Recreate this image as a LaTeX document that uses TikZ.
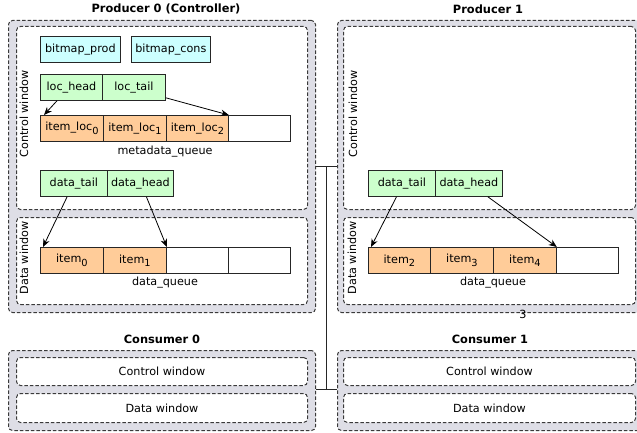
\documentclass[tikz,border=0pt]{standalone}
\usepackage{fontspec}
\setmainfont{DejaVu Sans}
\usetikzlibrary{calc,arrows.meta}

\definecolor{panelgray}{HTML}{DEDEE6}
\definecolor{edgegray}{HTML}{3A3A3A}
\definecolor{cellgreen}{HTML}{CCFFCC}
\definecolor{cellcyan}{HTML}{CCFFFF}
\definecolor{cellorange}{HTML}{FFCC99}

% lowered, slightly smaller index digit
\newcommand{\idx}[1]{\raisebox{-3.2pt}{\fontsize{9.8}{10}\selectfont #1}}

\begin{document}
\begin{tikzpicture}[x=1pt,y=-1pt,
  font=\fontsize{11.2}{13}\selectfont,
  panel/.style={draw=edgegray, fill=panelgray, dash pattern=on 3.5pt off 2pt,
    rounded corners=4pt, line width=1pt, inner sep=0, anchor=north west},
  window/.style={draw=edgegray, fill=white, dash pattern=on 3.5pt off 2pt,
    rounded corners=4pt, line width=1pt, inner sep=0, anchor=north west},
  cell/.style={draw=black!85, line width=0.8pt, minimum height=26pt,
    inner sep=0, anchor=north west},
  green/.style={cell, fill=cellgreen},
  cyan/.style={cell, fill=cellcyan},
  orange/.style={cell, fill=cellorange},
  empty/.style={cell, fill=white},
  title/.style={font=\fontsize{11.4}{13}\selectfont\bfseries},
  ptr/.style={-{Stealth[length=8pt,width=6.5pt]}, line width=0.8pt, black},
  bus/.style={line width=0.8pt, black!85},
  sideways/.style={rotate=90}
]
\clip (0,0) rectangle (637,433);

% ---------------- Producer 0 (Controller) ----------------
\node[title] (p0title) at (166,9) {Producer 0 (Controller)};
\node[panel, minimum width=307pt, minimum height=292pt] (p0) at (8,20) {};
\node[window, minimum width=291pt, minimum height=183pt] (p0ctl) at (16,26) {};
\node[window, minimum width=291pt, minimum height=87pt] (p0dat) at (16,217) {};
\node[sideways] (p0ctllbl) at (24,114) {Control window};
\node[sideways] (p0datlbl) at (24,258) {Data window};

\node[cyan, minimum width=80pt] (bmprod) at (40,36) {bitmap\_prod};
\node[cyan, minimum width=79pt] (bmcons) at (131,36) {bitmap\_cons};

\node[green, minimum width=62pt] (lochead) at (40,74) {loc\_head};
\node[green, minimum width=63pt] (loctail) at (102,74) {loc\_tail};

\node[orange, minimum width=63pt] (iloc0) at (40,115) {item\_loc\idx{0}};
\node[orange, minimum width=63pt] (iloc1) at (103,115) {item\_loc\idx{1}};
\node[orange, minimum width=62pt] (iloc2) at (166,115) {item\_loc\idx{2}};
\node[empty, minimum width=62pt] (iloc3) at (228,115) {};
\node (metaq) at (165,152) {metadata\_queue};

\node[green, minimum width=67pt] (p0dtail) at (40,170) {data\_tail};
\node[green, minimum width=66pt] (p0dhead) at (107,170) {data\_head};

\node[orange, minimum width=63pt] (item0) at (40,247) {item\idx{0}};
\node[orange, minimum width=63pt] (item1) at (103,247) {item\idx{1}};
\node[empty, minimum width=62pt] (p0slot2) at (166,247) {};
\node[empty, minimum width=62pt] (p0slot3) at (228,247) {};
\node (p0dq) at (165,283) {data\_queue};

\draw[ptr] ($(lochead.south west)!0.27!(lochead.south east)$) -- ($(iloc0.north west)+(4,0)$);
\draw[ptr] ($(loctail.south east)+(0,-3)$) -- (iloc2.north east);
\draw[ptr] ($(p0dtail.south west)!0.4!(p0dtail.south east)$) -- ($(item0.north west)+(3,0)$);
\draw[ptr] ($(p0dhead.south west)!0.59!(p0dhead.south east)$) -- (item1.north east);

% ---------------- Producer 1 ----------------
\node[title] (p1title) at (488,9) {Producer 1};
\node[panel, minimum width=307pt, minimum height=292pt] (p1) at (337,20) {};
\node[window, minimum width=292pt, minimum height=183pt] (p1ctl) at (343,26) {};
\node[window, minimum width=292pt, minimum height=87pt] (p1dat) at (343,217) {};
\node[sideways] (p1ctllbl) at (353,114) {Control window};
\node[sideways] (p1datlbl) at (352,258) {Data window};

\node[green, minimum width=67pt] (p1dtail) at (368,170) {data\_tail};
\node[green, minimum width=67pt] (p1dhead) at (435,170) {data\_head};

\node[orange, minimum width=62pt] (item2) at (368,247) {item\idx{2}};
\node[orange, minimum width=63pt] (item3) at (430,247) {item\idx{3}};
\node[orange, minimum width=63pt] (item4) at (493,247) {item\idx{4}};
\node[empty, minimum width=62pt] (p1slot3) at (556,247) {};
\node (p1dq) at (493,283) {data\_queue};

\draw[ptr] ($(p1dtail.south west)!0.42!(p1dtail.south east)$) -- ($(item2.north west)+(3,0)$);
\draw[ptr] ($(p1dhead.south west)!0.78!(p1dhead.south east)$) -- (item4.north east);

\node (pagenum) at (523,314) {3};

% ---------------- Consumers ----------------
\node[title] (c0title) at (162,339) {Consumer 0};
\node[panel, minimum width=307pt, minimum height=80pt] (c0) at (8,350) {};
\node[window, minimum width=291pt, minimum height=28pt] (c0ctl) at (16,357) {Control window};
\node[window, minimum width=291pt, minimum height=29pt] (c0dat) at (16,393) {Data window};

\node[title] (c1title) at (490,339) {Consumer 1};
\node[panel, minimum width=307pt, minimum height=80pt] (c1) at (337,350) {};
\node[window, minimum width=292pt, minimum height=28pt] (c1ctl) at (343,357) {Control window};
\node[window, minimum width=292pt, minimum height=29pt] (c1dat) at (343,393) {Data window};

% ---------------- Shared interconnect ----------------
\coordinate (busA) at (326,166);
\coordinate (busB) at (326,389);
\draw[bus] (p0.east |- busA) -- (p1.west |- busA);
\draw[bus] (busA) -- (busB);
\draw[bus] (c0.east |- busB) -- (c1.west |- busB);
\end{tikzpicture}
\end{document}
